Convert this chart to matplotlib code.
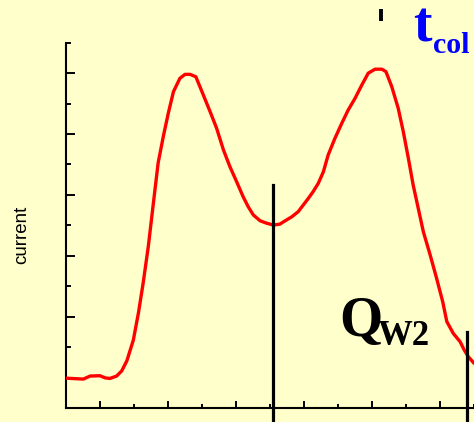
import matplotlib
matplotlib.use("Agg")
import matplotlib.pyplot as plt
from matplotlib.ticker import MultipleLocator

# Current trace (time vs. current, arbitrary units)
time = [0.00, 0.51, 0.71, 1.00, 1.15, 1.29, 1.49, 1.64, 1.79, 1.98, 2.13, 2.27,
        2.42, 2.57, 2.71, 2.86, 3.01, 3.16, 3.35, 3.50, 3.65, 3.82, 4.04, 4.24,
        4.43, 4.63, 4.82, 5.02, 5.21, 5.36, 5.51, 5.71, 5.90, 6.10, 6.29, 6.49,
        6.64, 6.83, 6.98, 7.13, 7.27, 7.42, 7.57, 7.71, 7.91, 8.11, 8.30, 8.50,
        8.70, 8.89, 9.09, 9.29, 9.41, 9.58, 9.77, 9.92, 10.07, 10.21, 10.36,
        10.51, 10.71, 10.90, 11.08, 11.20, 11.39, 11.59, 11.71, 11.83, 12.00]
current = [0.98, 0.95, 1.05, 1.06, 0.99, 0.97, 1.05, 1.22, 1.55, 2.23, 3.12, 4.11,
           5.30, 6.73, 8.05, 8.91, 9.69, 10.39, 10.83, 10.96, 10.96, 10.88, 10.28,
           9.73, 9.19, 8.48, 7.93, 7.43, 6.94, 6.61, 6.34, 6.15, 6.07, 6.01, 6.04,
           6.18, 6.28, 6.45, 6.67, 6.89, 7.11, 7.38, 7.76, 8.31, 8.86, 9.35, 9.79,
           10.17, 10.61, 11.00, 11.13, 11.13, 11.05, 10.56, 9.85, 9.08, 8.20, 7.33,
           6.56, 5.79, 5.03, 4.26, 3.49, 2.84, 2.45, 2.18, 1.91, 1.69, 1.47]

# Marker lines: (time, top of line)
marker_times = [6.09, 11.80]
marker_tops = [7.33, 2.49]
tcol_time = 9.27
tcol_span = [12.72, 13.12]

BG = "#FFFFCC"

fig = plt.figure(figsize=(4.74, 4.22), dpi=100, facecolor=BG)
ax = fig.add_axes([66 / 474, 14 / 422, 1 - 66 / 474, (408 - 42.7) / 422])
ax.set_facecolor(BG)

ax.plot(time, current, color="#FF0000", lw=2.4, solid_capstyle="round",
        solid_joinstyle="round", zorder=3)

for t, top in zip(marker_times, marker_tops):
    ax.plot([t, t], [-1.0, top], color="black", lw=2.3, clip_on=False, zorder=4)
ax.plot([tcol_time, tcol_time], tcol_span, color="black", lw=2.8,
        clip_on=False, solid_capstyle="butt")

ax.set_xlim(0, 12)
ax.set_ylim(0, 12)
for s in ("top", "right"):
    ax.spines[s].set_visible(False)
for s in ("left", "bottom"):
    ax.spines[s].set_linewidth(1.5)
    ax.spines[s].set_color("black")

ax.xaxis.set_major_locator(MultipleLocator(2))
ax.xaxis.set_minor_locator(MultipleLocator(1))
ax.yaxis.set_major_locator(MultipleLocator(2))
ax.yaxis.set_minor_locator(MultipleLocator(1))
# shift majors to odd positions
ax.set_xticks([1, 3, 5, 7, 9, 11])
ax.set_xticks([0, 2, 4, 6, 8, 10, 12], minor=True)
ax.set_yticks([1, 3, 5, 7, 9, 11])
ax.set_yticks([0, 2, 4, 6, 8, 10, 12], minor=True)
ax.set_xticklabels([])
ax.set_yticklabels([])
ax.tick_params(axis="y", which="major", direction="in", length=6.5, width=1.4)
ax.tick_params(axis="y", which="minor", direction="in", length=3.6, width=1.4)
ax.tick_params(axis="x", which="major", direction="in", length=5.0, width=1.4)
ax.tick_params(axis="x", which="minor", direction="in", length=2.9, width=1.4)

fig.text(22 / 474, 1 - 235 / 422, "current", rotation=90, ha="center",
         va="center", fontsize=13.5, family="Liberation Sans")

def px(x, y):
    return x / 474, 1 - y / 422

fig.text(*px(339, 336), "Q", fontsize=40, family="Liberation Serif",
         weight="bold", ha="left", va="baseline")
fig.text(*px(377, 345), "W2", fontsize=25, family="Liberation Serif",
         weight="bold", ha="left", va="baseline")
fig.text(*px(413, 41), "t", fontsize=40, family="Liberation Serif",
         weight="bold", color="#0000FF", ha="left", va="baseline")
fig.text(*px(433, 53), "col", fontsize=21.5, family="Liberation Serif",
         weight="bold", color="#0000FF", ha="left", va="baseline")

fig.savefig("out.png", dpi=100, facecolor=BG)
